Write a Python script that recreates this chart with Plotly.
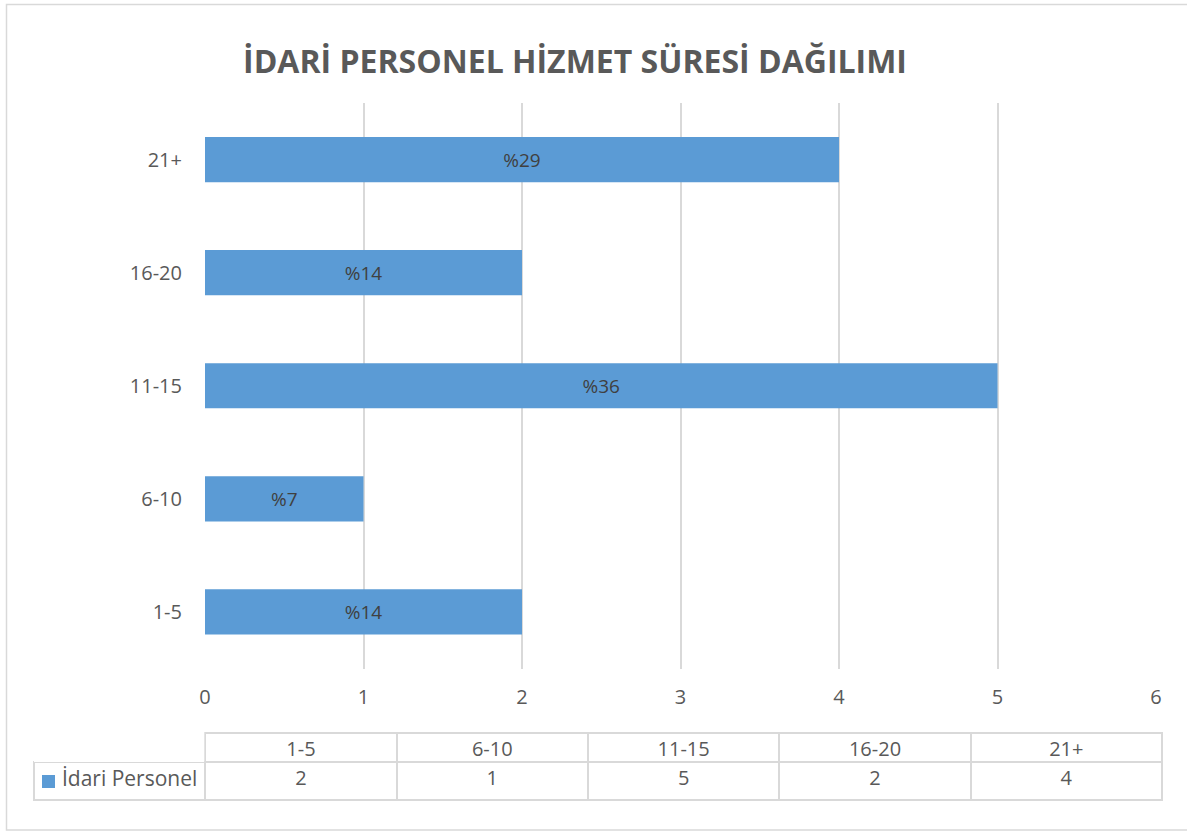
import plotly.graph_objects as go

# data
categories = ["1-5", "6-10", "11-15", "16-20", "21+"]
values = [2, 1, 5, 2, 4]
series_name = "İdari Personel"
x_ticks = [0, 1, 2, 3, 4, 5, 6]

BAR = "#5B9BD5"
GRID = "#D9D9D9"
TXT = "#595959"
FONT = "Open Sans"
W, H = 1187, 832

total = sum(values)
pct_labels = ["%" + str(round(v / total * 100)) for v in values]

fig = go.Figure()

fig.add_trace(go.Bar(
    x=values,
    y=categories,
    orientation="h",
    marker=dict(color=BAR, line=dict(width=0)),
    width=0.4,
    text=pct_labels,
    textposition="inside",
    insidetextanchor="middle",
    textfont=dict(family=FONT, size=19, color="#404040"),
    showlegend=False,
    hoverinfo="skip",
))

# data table under the chart (built from the same lists)
fig.add_trace(go.Table(
    domain=dict(x=[34 / W, 1162 / W], y=[(H - 815) / H, (H - 733) / H]),
    columnwidth=[171] + [191] * len(categories),
    header=dict(
        values=[""] + categories,
        height=29,
        align="center",
        fill=dict(color="white"),
        line=dict(color=["rgba(0,0,0,0)"] + [GRID] * len(categories), width=2),
        font=dict(family=FONT, size=20, color=TXT),
    ),
    cells=dict(
        values=[[series_name]] + [[str(v)] for v in values],
        height=38,
        align=["right"] + ["center"] * len(categories),
        fill=dict(color="white"),
        line=dict(color=GRID, width=2),
        font=dict(family=FONT, size=[21] + [20] * len(categories), color=TXT),
    ),
))

fig.update_layout(
    width=W,
    height=H,
    autosize=False,
    margin=dict(l=0, r=0, t=0, b=0, pad=0),
    paper_bgcolor="white",
    plot_bgcolor="white",
    title=dict(
        text="<b>İDARİ PERSONEL HİZMET SÜRESİ DAĞILIMI</b>",
        x=575 / W, xanchor="center",
        y=1 - 62 / H, yanchor="middle",
        font=dict(family=FONT, size=32, color=TXT),
    ),
    xaxis=dict(
        domain=[205 / W, 1156 / W],
        range=[0, 6],
        tickvals=x_ticks,
        showgrid=True,
        gridcolor=GRID,
        gridwidth=1.5,
        zeroline=False,
        showline=False,
        ticks="",
        automargin=False,
        ticklabelstandoff=14,
        tickfont=dict(family=FONT, size=20, color=TXT),
    ),
    yaxis=dict(
        domain=[(H - 668.5) / H, (H - 103) / H],
        categoryorder="array",
        categoryarray=categories,
        showgrid=False,
        zeroline=False,
        showline=False,
        ticks="",
        automargin=False,
        ticklabelstandoff=22,
        tickfont=dict(family=FONT, size=20, color=TXT),
    ),
    shapes=[
        # chart border
        dict(type="rect", xref="paper", yref="paper",
             x0=6.5 / W, x1=1.01, y0=1 - 830 / H, y1=1 - 4.5 / H,
             line=dict(color=GRID, width=1.5)),
        # legend key in the table
        dict(type="rect", xref="paper", yref="paper",
             x0=42 / W, x1=55 / W, y0=1 - 788 / H, y1=1 - 775 / H,
             fillcolor=BAR, line=dict(width=0)),
    ],
)

fig.write_html(
    "out.html",
    config={"displayModeBar": False, "responsive": False},
    post_script="document.body.style.margin='0';document.body.style.overflow='hidden';",
)
